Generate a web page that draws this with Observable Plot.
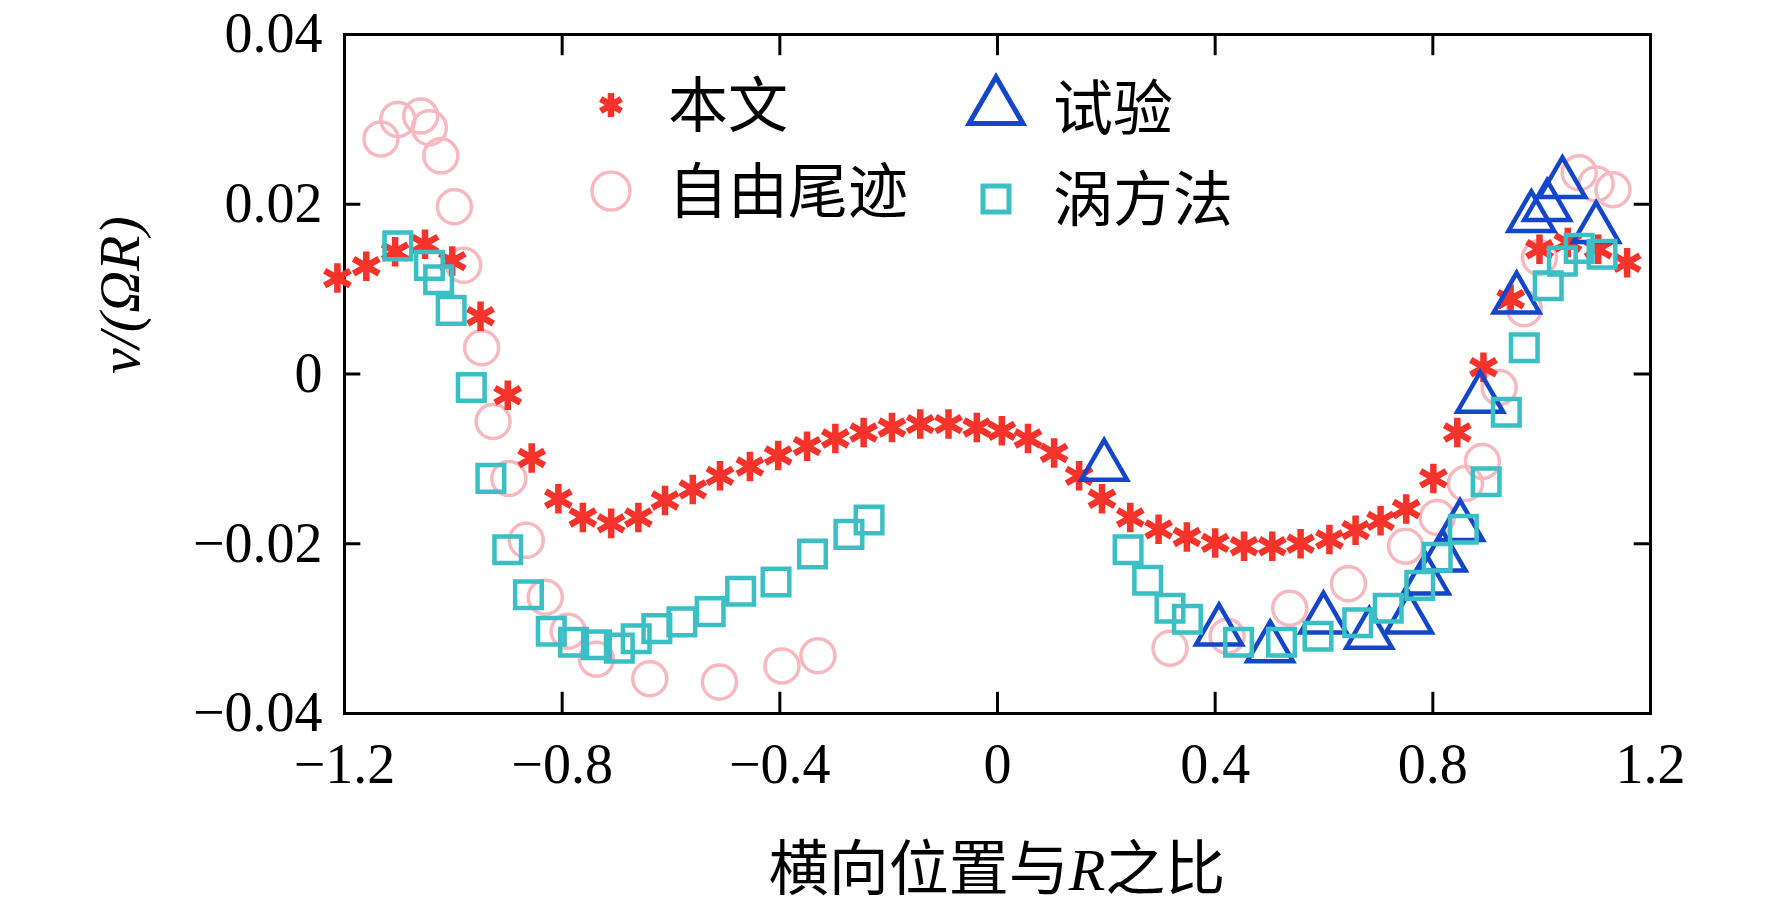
<!DOCTYPE html>
<html><head><meta charset="utf-8">
<script src="https://cdn.jsdelivr.net/npm/d3@7"></script>
<script src="https://cdn.jsdelivr.net/npm/@observablehq/plot@0.6"></script>
<style>
body{margin:0;background:#fff;}
#wrap{position:relative;width:1772px;height:909px;}
#leg{position:absolute;left:0;top:0;}
</style></head><body><div id="wrap"></div>
<script>
const xTicks=[-1.2,-0.8,-0.4,0,0.4,0.8,1.2];
const yTicks=[-0.04,-0.02,0,0.02,0.04];
const legendNames=["本文","自由尾迹","试验","涡方法"];
const benwenX=[-1.213,-1.16,-1.107,-1.052,-1.002,-0.95,-0.9,-0.856,-0.807,-0.762,-0.71,-0.66,-0.611,-0.56,-0.51,-0.455,-0.403,-0.35,-0.298,-0.246,-0.194,-0.142,-0.09,-0.038,0.008,0.056,0.104,0.15,0.192,0.244,0.296,0.348,0.4,0.453,0.505,0.557,0.61,0.658,0.704,0.751,0.801,0.845,0.893,0.943,0.996,1.048,1.104,1.157];
const benwenY=[0.0113,0.0127,0.0144,0.0153,0.0133,0.0068,-0.0025,-0.0099,-0.0147,-0.0169,-0.0176,-0.0169,-0.0149,-0.0136,-0.012,-0.0109,-0.0096,-0.0085,-0.0076,-0.0069,-0.0063,-0.0059,-0.0059,-0.0063,-0.0067,-0.0076,-0.0093,-0.012,-0.0147,-0.0169,-0.0183,-0.0192,-0.0199,-0.0203,-0.0203,-0.02,-0.0195,-0.0184,-0.0173,-0.0159,-0.0123,-0.0069,0.0008,0.0088,0.0147,0.0155,0.0147,0.0131];
const freeX=[-1.133,-1.102,-1.06,-1.044,-1.023,-0.998,-0.981,-0.948,-0.927,-0.898,-0.866,-0.831,-0.789,-0.737,-0.639,-0.511,-0.396,-0.33,0.317,0.422,0.537,0.645,0.75,0.808,0.86,0.891,0.922,0.968,0.996,1.069,1.1,1.131];
const freeY=[0.0277,0.030,0.0304,0.029,0.0257,0.0197,0.0128,0.0031,-0.0056,-0.0123,-0.0196,-0.0263,-0.0303,-0.0336,-0.0359,-0.0363,-0.0344,-0.0332,-0.0323,-0.0309,-0.0276,-0.0247,-0.0203,-0.0169,-0.0129,-0.0103,-0.0016,0.0077,0.0137,0.0237,0.0224,0.0217];
const expX=[0.196,0.407,0.501,0.599,0.683,0.756,0.787,0.818,0.85,0.887,0.954,0.981,1.01,1.038,1.1];
const expY=[-0.0109,-0.0303,-0.0323,-0.0289,-0.0307,-0.0289,-0.0243,-0.0216,-0.018,-0.0029,0.0088,0.0184,0.0197,0.0224,0.0171];
const vortX=[-1.102,-1.044,-1.027,-1.004,-0.967,-0.931,-0.9,-0.862,-0.82,-0.779,-0.737,-0.695,-0.664,-0.626,-0.58,-0.528,-0.472,-0.407,-0.34,-0.273,-0.236,0.24,0.276,0.317,0.349,0.443,0.522,0.589,0.662,0.718,0.776,0.808,0.856,0.898,0.935,0.968,1.012,1.038,1.069,1.111];
const vortY=[0.0151,0.0128,0.0111,0.0075,-0.0016,-0.0123,-0.0207,-0.026,-0.0303,-0.0316,-0.0319,-0.0323,-0.0312,-0.03,-0.0292,-0.028,-0.0256,-0.0245,-0.0212,-0.0189,-0.0172,-0.0207,-0.0243,-0.0276,-0.0289,-0.0316,-0.0316,-0.0309,-0.0293,-0.0276,-0.0249,-0.0216,-0.0183,-0.0127,-0.0045,0.0031,0.0104,0.0133,0.0148,0.0141];
const zip=(xs,ys)=>xs.map((x,i)=>({x,y:ys[i]}));
const fmt=d=>d===0?"0":(d<0?"\u2212":"")+String(Math.abs(d));
const red="#f5332b",pink="#f6b9c0",blue="#1346c8",cyan="#3bbfc4";
const plot=Plot.plot({
  width:1772,height:909,marginLeft:344,marginRight:122,marginTop:34,marginBottom:196,
  style:{fontFamily:"'Liberation Serif',serif",fontSize:"56px",color:"#000"},
  x:{domain:[-1.2,1.2],ticks:xTicks,tickFormat:fmt,tickSize:0,tickPadding:30,label:null},
  y:{domain:[-0.04,0.04],ticks:yTicks,tickFormat:fmt,tickSize:0,tickPadding:22,label:null},
  marks:[
    Plot.frame({stroke:"#000",strokeWidth:3}),
    Plot.ruleX(xTicks,{x:d=>d,y1:-0.04,y2:-0.0375,stroke:"#000",strokeWidth:3}),
    Plot.ruleX(xTicks,{x:d=>d,y1:0.04,y2:0.0375,stroke:"#000",strokeWidth:3}),
    Plot.ruleY(yTicks,{y:d=>d,x1:-1.2,x2:-1.17,stroke:"#000",strokeWidth:3}),
    Plot.ruleY(yTicks,{y:d=>d,x1:1.2,x2:1.17,stroke:"#000",strokeWidth:3}),
    Plot.dot(zip(freeX,freeY),{x:"x",y:"y",r:17,stroke:pink,strokeWidth:3.5,fill:"none"}),
    Plot.dot(zip(benwenX,benwenY),{x:"x",y:"y",r:14,symbol:"asterisk",stroke:red,strokeWidth:6.5}),
    Plot.dot(zip(expX,expY),{x:"x",y:"y",r:17,symbol:"triangle",stroke:blue,strokeWidth:4.5,fill:"none"}),
    Plot.dot(zip(vortX,vortY),{x:"x",y:"y",r:15,symbol:"square",stroke:cyan,strokeWidth:4.5,fill:"none"}),
    Plot.text(["v/(ΩR)"],{frameAnchor:"left",dx:-224,rotate:-90,text:d=>d,fontSize:58,fontStyle:"italic"})
  ]
});
const wrap=document.getElementById("wrap");
wrap.appendChild(plot);
const ns="http://www.w3.org/2000/svg";
const leg=document.createElementNS(ns,"svg");
leg.setAttribute("id","leg");leg.setAttribute("width",1772);leg.setAttribute("height",909);
const items=[
 {n:legendNames[0],sym:d3.symbolAsterisk,c:red,x:611,y:105,sw:6.5,size:400},
 {n:legendNames[1],sym:d3.symbolCircle,c:pink,x:611,y:191,sw:3.5,size:Math.PI*19*19},
 {n:legendNames[2],sym:d3.symbolTriangle,c:blue,x:996,y:108,sw:5,size:Math.PI*20*20},
 {n:legendNames[3],sym:d3.symbolSquare,c:cyan,x:996,y:199,sw:5,size:26*26}];
for(const it of items){
  const p=document.createElementNS(ns,"path");
  p.setAttribute("d",d3.symbol(it.sym,it.size)());
  p.setAttribute("transform",`translate(${it.x},${it.y})`);
  p.setAttribute("fill","none");p.setAttribute("stroke",it.c);p.setAttribute("stroke-width",it.sw);
  leg.appendChild(p);
  const t=document.createElementNS(ns,"text");
  t.setAttribute("x",it.x+57);t.setAttribute("y",it.y+22);
  t.setAttribute("font-family","'Noto Sans CJK SC'");t.setAttribute("font-size",60);
  t.textContent=it.n;leg.appendChild(t);
}
const xl=document.createElementNS(ns,"text");
xl.setAttribute("x",997);xl.setAttribute("y",890);xl.setAttribute("text-anchor","middle");
xl.setAttribute("font-size",60);xl.setAttribute("font-family","'Noto Sans CJK SC'");
xl.innerHTML='横向位置与<tspan font-family="Liberation Serif" font-style="italic">R</tspan>之比';
leg.appendChild(xl);
wrap.appendChild(leg);
</script></body></html>
